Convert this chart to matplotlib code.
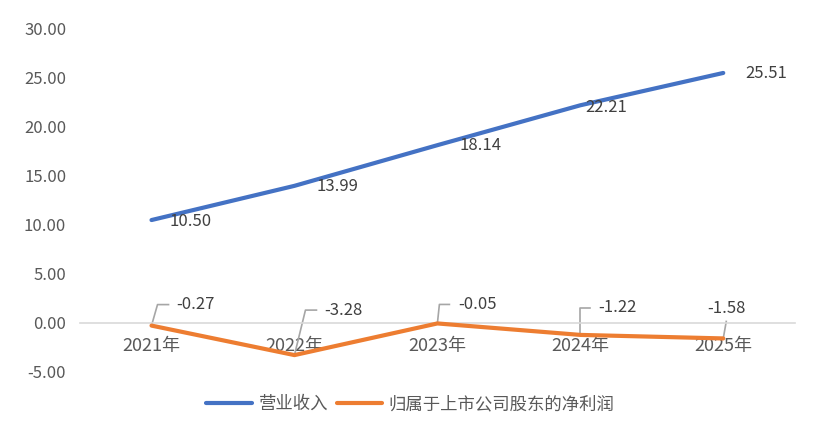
import matplotlib.pyplot as plt

plt.rcParams['font.family'] = ['Noto Sans CJK SC', 'DejaVu Sans']

years = ["2021年", "2022年", "2023年", "2024年", "2025年"]
revenue = [10.50, 13.99, 18.14, 22.21, 25.51]
net_profit = [-0.27, -3.28, -0.05, -1.22, -1.58]
series_names = ["营业收入", "归属于上市公司股东的净利润"]

BLUE = "#4472C4"
ORANGE = "#ED7D31"
TXT = "#595959"
LBL = "#404040"

fig = plt.figure(figsize=(8.21, 4.32), dpi=100)
ax = fig.add_axes([0.0975, 0.139, 0.8705, 0.794])

x = list(range(len(years)))
ax.plot(x, revenue, color=BLUE, lw=3, solid_capstyle="round", label=series_names[0], zorder=3)
ax.plot(x, net_profit, color=ORANGE, lw=3, solid_capstyle="round", label=series_names[1], zorder=3)

ax.set_xlim(-0.5, len(years) - 0.5)
ax.set_ylim(-5, 30)
ax.set_yticks(range(-5, 31, 5))
ax.set_yticklabels([f"{v:.2f}" for v in range(-5, 31, 5)])
ax.set_xticks(x)
ax.set_xticklabels(years)

for s in ["top", "right", "left"]:
    ax.spines[s].set_visible(False)
ax.spines["bottom"].set_position(("data", 0))
ax.spines["bottom"].set_color("#D9D9D9")
ax.spines["bottom"].set_linewidth(1.2)
ax.tick_params(axis="both", length=0, colors=TXT)
ax.tick_params(axis="y", labelsize=12, pad=10)
ax.tick_params(axis="x", labelsize=13, pad=10)

# revenue labels, to the right of points (pixel offsets)
rev_off = [(18, -1), (22, -1), (22, 0), (5, -2), (22, -1)]
for i, v in enumerate(revenue):
    ax.annotate(f"{v:.2f}", (i, v), xytext=rev_off[i], textcoords="offset pixels",
                ha="left", va="center", fontsize=12, color=LBL)

# net profit labels with leader lines
# (corner, end of leader, text anchor) in pixels relative to the point
leaders = [
    [(6, 21), (17, 21), (25, 21, "left")],
    [(11, 45), (22, 45), (30, 45, "left")],
    [(2, 19), (12, 19), (21, 19, "left")],
    [(0, 27), (10, 27), (18, 27, "left")],
    [(3, 17), (3, 17), (3, 30, "center")],
]
inv = ax.transData.inverted()
for i, v in enumerate(net_profit):
    px, py = ax.transData.transform((i, v))
    c, e, t = leaders[i]
    pts = inv.transform([(px, py), (px + c[0], py + c[1]), (px + e[0], py + e[1])])
    ax.plot(pts[:, 0], pts[:, 1], color="#A6A6A6", lw=1.2, zorder=2)
    ax.annotate(f"{v:.2f}", (i, v), xytext=(t[0], t[1]), textcoords="offset pixels",
                ha=t[2], va="center", fontsize=12, color=LBL)

fig.legend(loc="center", bbox_to_anchor=(0.5, 0.065), ncol=2, frameon=False,
           fontsize=12.5, handlelength=2.6, columnspacing=0.5, handletextpad=0.4,
           labelcolor=TXT)

fig.savefig("out.png", dpi=100)
